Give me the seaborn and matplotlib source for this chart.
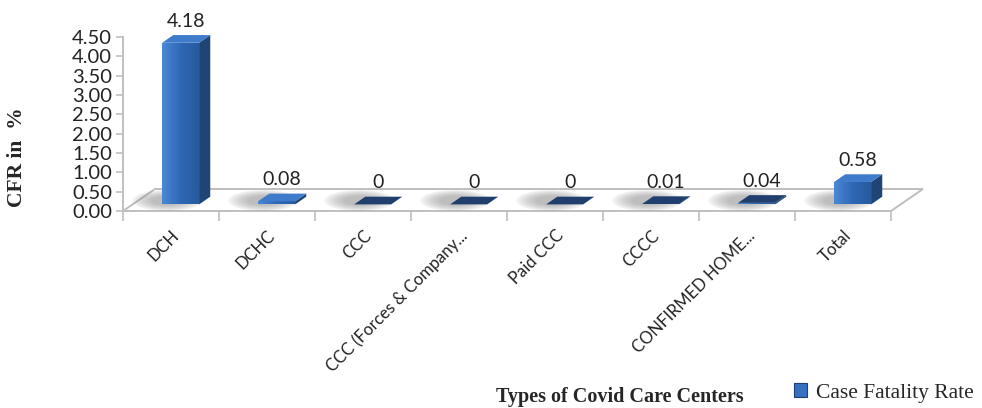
import numpy as np
import pandas as pd
import matplotlib
matplotlib.use("Agg")
import matplotlib.pyplot as plt
from matplotlib.patches import Polygon, Patch, Ellipse, Rectangle
from matplotlib.colors import LinearSegmentedColormap
import seaborn as sns

# Case fatality rate (%) by type of covid care center
centers = ["DCH", "DCHC", "CCC", "CCC (Forces & Company...", "Paid CCC",
           "CCCC", "CONFIRMED HOME...", "Total"]
cfr = [4.18, 0.08, 0, 0, 0, 0.01, 0.04, 0.58]
value_labels = ["4.18", "0.08", "0", "0", "0", "0.01", "0.04", "0.58"]
y_ticks = [0.0, 0.5, 1.0, 1.5, 2.0, 2.5, 3.0, 3.5, 4.0, 4.5]

sns.set_theme(style="white")
plt.rcParams["font.family"] = ["Lato", "DejaVu Sans"]

fig = plt.figure(figsize=(9.82, 4.08), dpi=100)
ax = fig.add_axes([123 / 982, 1 - 211 / 408, 768 / 982, 174 / 408])

df = pd.DataFrame({"center": centers, "cfr": cfr})
bar_w = 0.385
sns.barplot(data=df, x="center", y="cfr", color="#3670C0", saturation=1,
            width=bar_w, ax=ax, errorbar=None, zorder=3)
bars = sorted([p for p in ax.patches if isinstance(p, Rectangle)],
              key=lambda p: p.get_x())

# oblique depth of the floor, in data units
DX, DY = 0.333, 0.569
f0, f1 = 0.30, 0.65
ddx, ddy = (f1 - f0) * DX, (f1 - f0) * DY
n = len(centers)
grey = "#BFBFBF"

# floor
floor = Polygon([(-0.5, 0), (n - 0.5, 0), (n - 0.5 + DX, DY), (-0.5 + DX, DY)],
                closed=True, facecolor="white", edgecolor=grey, lw=1.4,
                zorder=0.5, clip_on=False)
ax.add_patch(floor)

front_cmap = LinearSegmentedColormap.from_list("front", ["#4A88D6", "#2F68B6", "#275A9F"])
grad = np.linspace(0, 1, 64).reshape(1, -1)

for p, v, lab in zip(bars, cfr, value_labels):
    x0 = p.get_x() + f0 * DX
    y0 = f0 * DY
    w = p.get_width()
    h = p.get_height()
    p.set_x(x0)
    p.set_y(y0)
    p.set_edgecolor("none")
    p.set_clip_on(False)

    # soft floor shadow, strongest just left of the footprint
    cx, cy = x0 + w / 2 - 0.14, y0 + ddy / 2
    for k in range(7):
        e = Ellipse((cx, cy), w * (1.9 - 0.17 * k), 0.55 - 0.05 * k,
                    facecolor="#6F6F6F", edgecolor="none", alpha=0.08,
                    zorder=0.8, clip_on=False)
        ax.add_patch(e)

    if h > 0:
        im = ax.imshow(grad, extent=[x0, x0 + w, y0, y0 + h], cmap=front_cmap,
                       aspect="auto", zorder=3.1, interpolation="bilinear")
        im.set_clip_path(p)
        side = Polygon([(x0 + w, y0), (x0 + w + ddx, y0 + ddy),
                        (x0 + w + ddx, y0 + ddy + h), (x0 + w, y0 + h)],
                       closed=True, facecolor="#1F4577", edgecolor="none",
                       zorder=3, clip_on=False)
        ax.add_patch(side)
    top_color = "#3E7BCB" if h >= 0.05 else "#213F6E"
    top = Polygon([(x0, y0 + h), (x0 + w, y0 + h), (x0 + w + ddx, y0 + h + ddy),
                   (x0 + ddx, y0 + h + ddy)], closed=True, facecolor=top_color,
                  edgecolor="none", zorder=3.2, clip_on=False)
    ax.add_patch(top)

    ax.annotate(lab, (x0 + w / 2 + ddx / 2, y0 + h + ddy), xytext=(0, 4),
                textcoords="offset points", ha="center", va="bottom",
                fontsize=14, color="#222222", annotation_clip=False)

ax.set_xlim(-0.5, n - 0.5)
ax.set_ylim(0, 4.5)
for s in ["top", "right", "bottom"]:
    ax.spines[s].set_visible(False)
ax.spines["left"].set_color(grey)
ax.spines["left"].set_linewidth(1.4)
ax.set_yticks(y_ticks)
ax.set_yticklabels([f"{t:.2f}" for t in y_ticks], fontsize=14.5, color="#222222")
ax.tick_params(axis="y", which="major", direction="out", length=5, width=1.2,
               color=grey, left=True, pad=3)

ax.set_xticks(range(n))
ax.set_xticklabels(centers, rotation=45, ha="right", rotation_mode="anchor",
                   fontsize=12, color="#222222")
ax.set_xticks(np.arange(-0.5, n, 1.0), minor=True)
ax.tick_params(axis="x", which="major", length=0, pad=12)
ax.tick_params(axis="x", which="minor", direction="out", length=7, width=1.2,
               color=grey, bottom=True)
ax.set_xlabel("")
ax.set_ylabel("")
ax.grid(False)

fig.text(17 / 982, 1 - 157 / 408, "CFR in  %", rotation=90, ha="center",
         va="center", fontsize=15.5, fontweight="bold", family="Liberation Serif")
fig.text(620 / 982, 1 - 397 / 408, "Types of Covid Care Centers", ha="center",
         va="center", fontsize=14.5, fontweight="bold", family="Liberation Serif")

handle = Patch(facecolor="#3670C0", edgecolor="#1F3F73", lw=0.8)
fig.legend([handle], ["Case Fatality Rate"], loc="center left",
           bbox_to_anchor=(794 / 982, 1 - 393 / 408), frameon=False,
           handlelength=0.6, handleheight=0.6, handletextpad=0.4,
           borderpad=0, borderaxespad=0,
           prop={"family": "Liberation Serif", "size": 15.5})

fig.savefig("out.png", dpi=100)
